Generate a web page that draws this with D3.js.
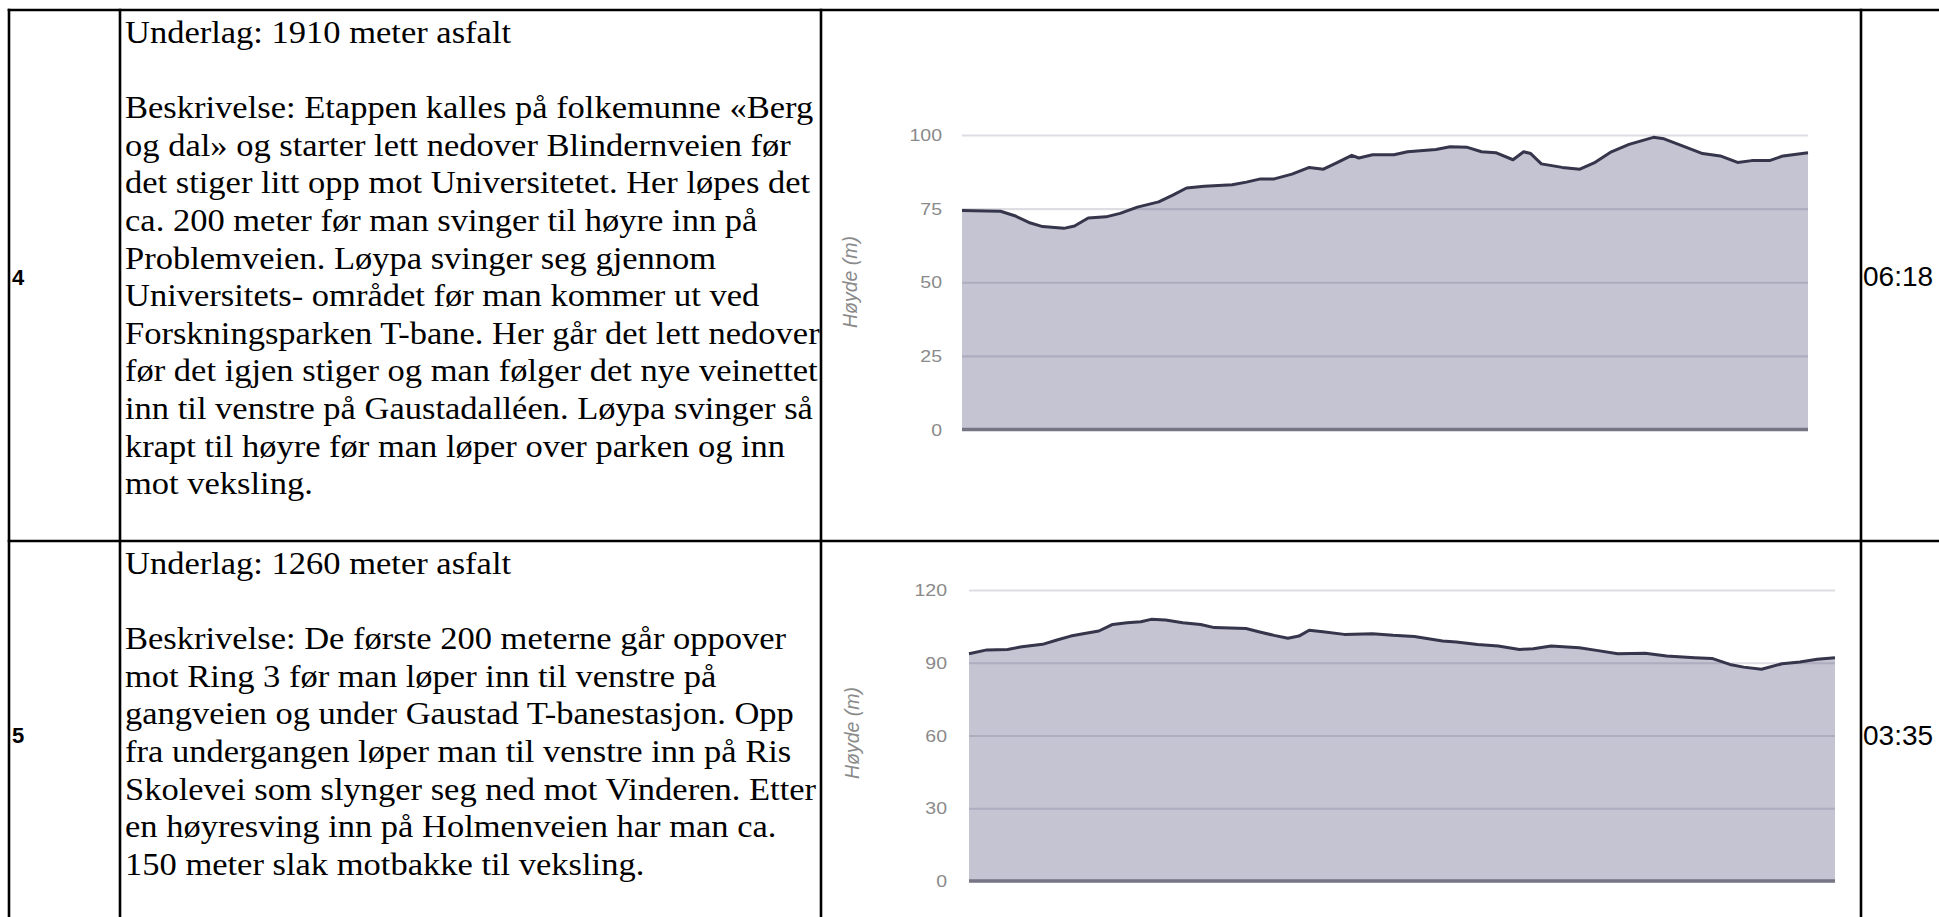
<!DOCTYPE html>
<html><head><meta charset="utf-8">
<script src="https://cdn.jsdelivr.net/npm/d3@7"></script>
<style>body{margin:0;background:#fff;overflow:hidden}</style>
</head><body>
<svg id="c" width="1939" height="917"></svg>
<script>
// ---------------- data ----------------
const legNumbers = ["4", "5"];
const legTimes = ["06:18", "03:35"];
const legText4 = [
  "Underlag: 1910 meter asfalt", "",
  "Beskrivelse: Etappen kalles på folkemunne «Berg",
  "og dal» og starter lett nedover Blindernveien før",
  "det stiger litt opp mot Universitetet. Her løpes det",
  "ca. 200 meter før man svinger til høyre inn på",
  "Problemveien. Løypa svinger seg gjennom",
  "Universitets- området før man kommer ut ved",
  "Forskningsparken T-bane. Her går det lett nedover",
  "før det igjen stiger og man følger det nye veinettet",
  "inn til venstre på Gaustadalléen. Løypa svinger så",
  "krapt til høyre før man løper over parken og inn",
  "mot veksling."];
const legText5 = [
  "Underlag: 1260 meter asfalt", "",
  "Beskrivelse: De første 200 meterne går oppover",
  "mot Ring 3 før man løper inn til venstre på",
  "gangveien og under Gaustad T-banestasjon. Opp",
  "fra undergangen løper man til venstre inn på Ris",
  "Skolevei som slynger seg ned mot Vinderen. Etter",
  "en høyresving inn på Holmenveien har man ca.",
  "150 meter slak motbakke til veksling."];

const yTitle = "Høyde (m)";
const ticks4 = [0, 25, 50, 75, 100];
const ticks5 = [0, 30, 60, 90, 120];

// elevation profile leg 4 (distance m, height m)
const dist4 = [0,87,119,151,182,230,254,285,325,357,396,444,476,507,547,610,642,674,705,745,784,816,848,880,896,927,975,1006,1070,1102,1141,1173,1205,1244,1268,1284,1308,1355,1395,1427,1466,1506,1561,1585,1625,1672,1712,1751,1783,1823,1854,1910];
const elev4 = [74.4,74.1,72.6,70.3,68.9,68.3,69.1,71.8,72.2,73.4,75.5,77.3,79.6,82.0,82.6,83.1,84.0,85.1,85.1,86.7,89.0,88.4,90.7,93.1,92.2,93.3,93.3,94.3,95.1,96.0,95.8,94.3,94.0,91.6,94.3,93.7,90.2,89.0,88.4,90.5,94.3,96.8,99.2,98.7,96.4,93.7,92.9,90.7,91.3,91.3,92.9,94.0];
// elevation profile leg 5
const dist5 = [0,26,56,77,107,128,148,168,189,209,230,250,265,286,311,337,357,403,423,444,464,480,495,515,546,587,617,648,689,709,740,770,801,821,847,888,913,944,984,1015,1056,1081,1107,1127,1153,1183,1209,1234,1260];
const elev5 = [93.7,95.3,95.5,96.6,97.6,99.4,101.0,102.1,103.1,105.8,106.5,106.9,107.9,107.6,106.5,105.8,104.5,104.1,102.7,101.3,100.1,101.0,103.4,102.8,101.7,102.0,101.3,100.8,99.0,98.6,97.5,96.9,95.5,95.8,96.9,96.2,95.1,93.7,93.9,92.8,92.1,91.8,89.3,88.2,87.3,89.6,90.3,91.4,92.1];

// ---------------- drawing ----------------
const svg = d3.select("#c");
const serif = "'Liberation Serif', 'Times New Roman', serif";
const sans = "'Liberation Sans', Arial, sans-serif";

// table borders
const colX = [9, 120, 821, 1861];
const rowY = [10, 541];
const bw = 2.6;
rowY.forEach(y => svg.append("line").attr("x1", 7.7).attr("x2", 1939).attr("y1", y).attr("y2", y)
  .attr("stroke", "#000").attr("stroke-width", bw));
colX.forEach(x => svg.append("line").attr("x1", x).attr("x2", x).attr("y1", rowY[0] - 1.3).attr("y2", 917)
  .attr("stroke", "#000").attr("stroke-width", bw));

// calibrate horizontal scale of the serif text
const probe = svg.append("text").attr("font-family", serif).attr("font-size", 32).text(legText4[8]);
const sx = 695 / probe.node().getComputedTextLength();
probe.remove();

const lineH = 37.6;
function paragraph(lines, baseY) {
  const g = svg.append("g").attr("transform", `translate(125,0) scale(${sx},1)`);
  g.selectAll("text").data(lines).join("text")
    .attr("x", 0).attr("y", (d, i) => baseY + i * lineH)
    .attr("font-family", serif).attr("font-size", 32).attr("fill", "#000")
    .text(d => d);
}
paragraph(legText4, 43);
paragraph(legText5, 574);

const numY = [285, 743];
const timeY = [286, 745];
legNumbers.forEach((n, i) => svg.append("text").attr("x", 12).attr("y", numY[i])
  .attr("font-family", sans).attr("font-weight", "bold").attr("font-size", 22).text(n));
legTimes.forEach((t, i) => svg.append("text").attr("x", 1863).attr("y", timeY[i])
  .attr("font-family", sans).attr("font-size", 28).text(t));

// elevation charts
function chart(dist, elev, ticks, box) {
  const data = dist.map((d, i) => ({ d, e: elev[i] }));
  const x = d3.scaleLinear().domain([0, d3.max(dist)]).range([box.x0, box.x1]);
  const y = d3.scaleLinear().domain([0, d3.max(ticks)]).range([box.yb, box.yt]);
  const g = svg.append("g");

  g.append("path").datum(data)
    .attr("d", d3.area().x(p => x(p.d)).y0(y(0)).y1(p => y(p.e)))
    .attr("fill", "#c4c4d2");

  // gridlines (drawn over the area, translucent)
  const grid = g.append("g").attr("transform", `translate(${box.x0},0)`)
    .call(d3.axisLeft(y).tickValues(ticks.slice(1)).tickSize(-(box.x1 - box.x0)).tickFormat(""));
  grid.select(".domain").remove();
  grid.selectAll(".tick line").attr("stroke", "rgba(85,85,115,0.2)").attr("stroke-width", 2.2);

  // baseline
  g.append("line").attr("x1", box.x0).attr("x2", box.x1).attr("y1", y(0)).attr("y2", y(0))
    .attr("stroke", "#757585").attr("stroke-width", 3.5);

  g.append("path").datum(data)
    .attr("d", d3.line().x(p => x(p.d)).y(p => y(p.e)))
    .attr("fill", "none").attr("stroke", "#35354b").attr("stroke-width", 3)
    .attr("stroke-linejoin", "round");

  // tick labels
  const ax = g.append("g").attr("transform", `translate(${box.lx},0)`)
    .call(d3.axisLeft(y).tickValues(ticks).tickSize(0).tickPadding(0));
  ax.select(".domain").remove();
  ax.selectAll(".tick text")
    .attr("font-family", sans).attr("font-size", 16).attr("fill", "#8a8a8a")
    .attr("x", 0).attr("dy", "0.35em")
    .attr("transform", "scale(1.22,1)");

  g.append("text")
    .attr("transform", `translate(${box.tx},${box.ty}) rotate(-90)`)
    .attr("text-anchor", "middle")
    .attr("font-family", sans).attr("font-style", "italic").attr("font-size", 19.5)
    .attr("fill", "#8a8a8a").text(yTitle);
}
chart(dist4, elev4, ticks4, { x0: 962, x1: 1808, yt: 135, yb: 429.5, lx: 942, tx: 857, ty: 282 });
chart(dist5, elev5, ticks5, { x0: 969, x1: 1835, yt: 590, yb: 881, lx: 947, tx: 859, ty: 733 });
</script>
</body></html>
